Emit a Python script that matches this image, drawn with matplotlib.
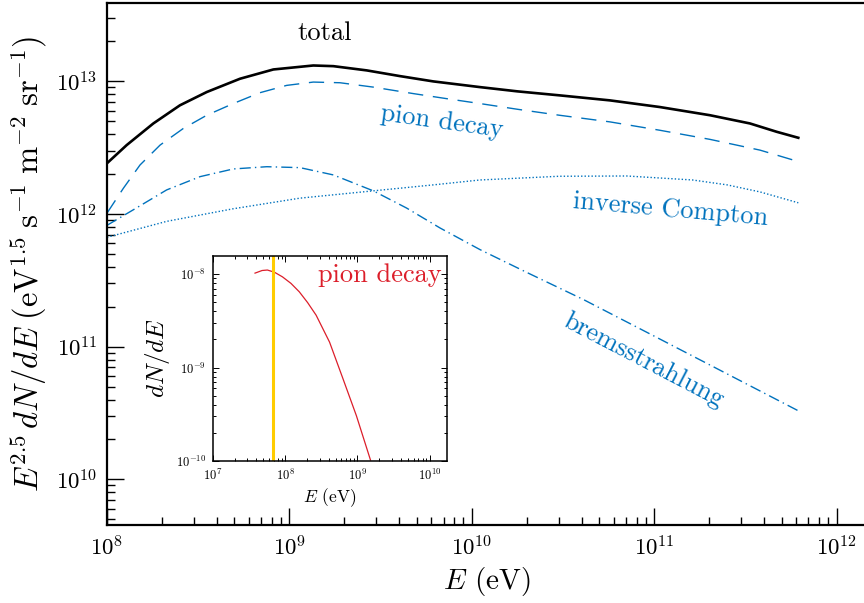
import numpy as np
import matplotlib
matplotlib.use("Agg")
import matplotlib.pyplot as plt

plt.rcParams['font.family'] = 'serif'
plt.rcParams['font.serif'] = ['cmr10']
plt.rcParams['mathtext.fontset'] = 'cm'
plt.rcParams['axes.formatter.use_mathtext'] = True
plt.rcParams['axes.unicode_minus'] = False

# main panel: log10 E (eV) and log10 of E^2.5 dN/dE
logE_total = [8.0, 8.108, 8.254, 8.40, 8.547, 8.729, 8.912, 9.131, 9.241, 9.424, 9.606, 9.789,
              10.045, 10.25, 10.48, 10.757, 11.03, 11.306, 11.525, 11.672, 11.79]
log_total = [12.383, 12.52, 12.683, 12.82, 12.92, 13.02, 13.09, 13.12, 13.115, 13.083, 13.04, 13.0,
             12.957, 12.925, 12.895, 12.857, 12.807, 12.745, 12.683, 12.62, 12.575]

logE_pion = [8.0, 8.09, 8.181, 8.291, 8.418, 8.547, 8.692, 8.839, 8.985, 9.131, 9.277, 9.46,
             9.68, 9.862, 10.045, 10.25, 10.48, 10.757, 11.03, 11.306, 11.58, 11.78]
log_pion = [12.007, 12.195, 12.37, 12.52, 12.645, 12.745, 12.833, 12.915, 12.97, 12.995, 12.99,
            12.957, 12.908, 12.87, 12.833, 12.79, 12.745, 12.695, 12.632, 12.563, 12.482, 12.40]

logE_ic = [8.0, 8.327, 8.692, 9.058, 9.46, 9.789, 10.045, 10.48, 10.85, 11.21, 11.4, 11.58, 11.79]
log_ic = [11.825, 11.945, 12.04, 12.12, 12.175, 12.22, 12.257, 12.285, 12.287, 12.257, 12.22,
          12.167, 12.085]

logE_brems = [8.0, 8.144, 8.327, 8.51, 8.692, 8.876, 9.058, 9.241, 9.46, 9.643, 9.826, 10.045,
              10.3, 10.61, 11.0, 11.4, 11.79]
log_brems = [11.915, 12.032, 12.182, 12.282, 12.34, 12.357, 12.35, 12.295, 12.175, 12.045, 11.895,
             11.732, 11.561, 11.357, 11.08, 10.795, 10.517]

# inset: pion decay dN/dE
logE_inset = [7.582, 7.68, 7.753, 7.85, 7.962, 8.08, 8.195, 8.31, 8.428, 8.614, 8.80, 8.986, 9.181]
log_dnde_inset = [-7.99, -7.962, -7.957, -7.98, -8.03, -8.10, -8.19, -8.305, -8.44, -8.728,
                  -9.12, -9.516, -9.99]
E_mark = 6.75e7  # half the pi0 mass

blue = '#0072BD'
red = '#DC1E2A'
yellow = '#FFCC00'


def pw(a):
    return 10 ** np.array(a)


fig = plt.figure(figsize=(8.64, 6.03), dpi=100)
# right edge sits just past the figure border, so the right spine is cut off
ax = fig.add_axes([107/864, 78/603, 759/864, 522/603])

ax.plot(pw(logE_total), pw(log_total), color='black', lw=1.9)
ax.plot(pw(logE_pion), pw(log_pion), color=blue, lw=1.0, dashes=(11, 7))
ax.plot(pw(logE_ic), pw(log_ic), color=blue, lw=1.0, dashes=(1, 1.5))
ax.plot(pw(logE_brems), pw(log_brems), color=blue, lw=1.0, dashes=(8, 3, 1, 3))

ax.set_xscale('log')
ax.set_yscale('log')
ax.set_xlim(1e8, 10 ** (8 + 759 / 182.4))
ax.set_ylim(4.53e9, 3.9e13)

for s in ['left', 'bottom', 'top']:
    ax.spines[s].set_linewidth(1.6)
ax.tick_params(which='both', direction='in', top=False, right=False, width=1.0)
ax.tick_params(which='major', length=12, labelsize=16.5, pad=7)
ax.tick_params(which='minor', length=5.5)
ax.set_xticks([1e8, 1e9, 1e10, 1e11, 1e12])
ax.set_yticks([1e10, 1e11, 1e12, 1e13])

ax.set_xlabel(r'$E$ (eV)', fontsize=21, labelpad=4)
ax.set_ylabel(r'$E^{2.5}\,dN/dE\;(\mathrm{eV}^{1.5}\;\mathrm{s}^{-1}\;\mathrm{m}^{-2}\;\mathrm{sr}^{-1})$',
              fontsize=23.5, labelpad=5)

ax.text(10 ** 9.195, 10 ** 13.364, 'total', fontsize=19, ha='center', va='center')
ax.text(10 ** 9.837, 10 ** 12.694, 'pion decay', fontsize=19, color=blue,
        ha='center', va='center', rotation=-8)
ax.text(10 ** 11.092, 10 ** 12.031, 'inverse Compton', fontsize=19, color=blue,
        ha='center', va='center', rotation=-5)
ax.text(10 ** 10.94, 10 ** 10.9, 'bremsstrahlung', fontsize=19, color=blue,
        ha='center', va='center', rotation=-27.5)

# inset
ins = fig.add_axes([213/864, 142/603, 234/864, 205/603])
ins.plot(pw(logE_inset), pw(log_dnde_inset), color=red, lw=0.9)
ins.axvline(E_mark, color=yellow, lw=2.2)
ins.set_xscale('log')
ins.set_yscale('log')
ins.set_xlim(1e7, 1.74e10)
ins.set_ylim(1e-10, 1.56e-8)
for s in ins.spines.values():
    s.set_linewidth(1.1)
ins.tick_params(which='both', direction='in', top=True, right=True, width=0.7)
ins.tick_params(which='major', length=4, labelsize=9, pad=5)
ins.tick_params(which='minor', length=2.5)
ins.set_xticks([1e7, 1e8, 1e9, 1e10])
ins.set_yticks([1e-10, 1e-9, 1e-8])
ins.set_xlabel(r'$E$ (eV)', fontsize=12.5, labelpad=2)
ins.set_ylabel(r'$dN/dE$', fontsize=18, labelpad=3)
ins.text(0.975, 0.905, 'pion decay', transform=ins.transAxes, fontsize=19,
         color=red, ha='right', va='center')

fig.savefig('out.png', dpi=100)
